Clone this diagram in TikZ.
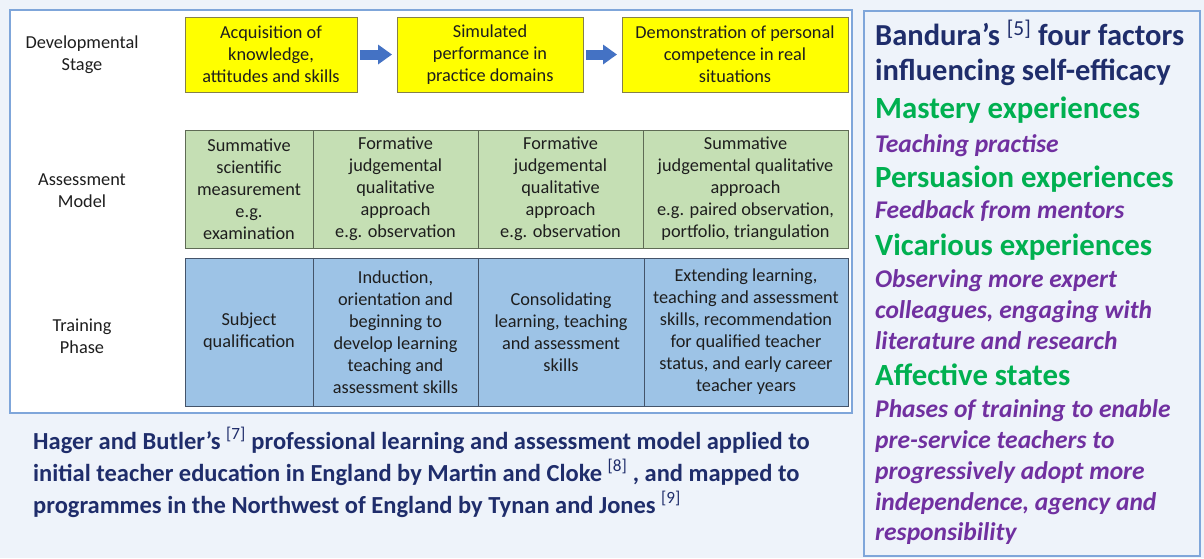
\documentclass[tikz,border=0pt]{standalone}
\usepackage{fontspec}
\setmainfont{Carlito}
\usetikzlibrary{arrows.meta}

\definecolor{pagebg}{HTML}{EEF3FA}
\definecolor{panelline}{HTML}{7FA6DA}
\definecolor{celltext}{HTML}{1E1E1E}
\definecolor{stageyellow}{HTML}{FFFF00}
\definecolor{stageedge}{HTML}{85804A}
\definecolor{assessgreen}{HTML}{C5DFB4}
\definecolor{assessedge}{HTML}{5F6B55}
\definecolor{phaseblue}{HTML}{9DC3E6}
\definecolor{phaseedge}{HTML}{44546A}
\definecolor{arrowblue}{HTML}{4472C4}
\definecolor{navy}{HTML}{1F2D6B}
\definecolor{factorgreen}{HTML}{00B050}
\definecolor{notepurple}{HTML}{7030A0}

\begin{document}
\begin{tikzpicture}[x=1pt,y=-1pt]

    \tikzset{
      cell/.style={
        draw,
        anchor=north west,
        align=center,
        inner sep=2pt,
        outer sep=0pt,
        line width=1pt,
        text=celltext,
        font=\fontsize{18.3}{22}\selectfont,
      },
      stagebox/.style={cell, fill=stageyellow, draw=stageedge,
        minimum width=172pt, minimum height=75pt},
      assessbox/.style={cell, fill=assessgreen, draw=assessedge,
        minimum height=118pt},
      phasebox/.style={cell, fill=phaseblue, draw=phaseedge,
        minimum height=148pt},
      rowlabel/.style={align=center, text=celltext,
        font=\fontsize{18.3}{22}\selectfont},
      fatarrow/.style={draw=arrowblue, line width=10pt,
        -{Triangle[length=14pt,width=19pt]},
        shorten <=3pt, shorten >=5pt},
      caption/.style={anchor=base west, inner sep=0pt, text=navy,
        font=\fontsize{24.5}{32}\selectfont\bfseries},
      heading/.style={anchor=base west, inner sep=0pt, text=navy,
        font=\fontsize{30.5}{35}\selectfont\bfseries},
      factor/.style={anchor=base west, inner sep=0pt, text=factorgreen,
        font=\fontsize{30.8}{34}\selectfont\bfseries},
      note/.style={anchor=base west, inner sep=0pt, text=notepurple,
        font=\fontsize{25.5}{30}\selectfont\bfseries\itshape},
    }

    \useasboundingbox (0,0) rectangle (1204,558);
    \fill[pagebg] (0,0) rectangle (1204,558);

    % the two panels
    \draw[panelline, line width=2pt, fill=white] (10,10) rectangle (852,413);
    \draw[panelline, line width=1.5pt, fill=pagebg] (864,11) rectangle (1200,556);

    % row labels
    \node[rowlabel] (lstage) at (82,55) {Developmental\\Stage};
    \node[rowlabel] (lassess) at (82,191) {Assessment\\Model};
    \node[rowlabel] (lphase) at (82,336) {Training\\Phase};

    % developmental stages
    \node[stagebox] (ds1) at (185,17) {Acquisition of\\knowledge,\\attitudes and skills};
    \node[stagebox, minimum width=186pt] (ds2) at (397,17) {Simulated\\performance in\\practice domains};
    \node[stagebox, minimum width=226pt] (ds3) at (622,17) {Demonstration of personal\\competence in real\\situations};
    \draw[fatarrow] (ds1) -- (ds2);
    \draw[fatarrow] (ds2) -- (ds3);

    % assessment model
    \node[assessbox, minimum width=128pt] (am1) at (185,130) {Summative\\scientific\\measurement\\e.g.\\examination};
    \node[assessbox, minimum width=165pt] (am2) at (313,130) {Formative\\judgemental\\qualitative\\approach\\e.g. observation};
    \node[assessbox, minimum width=165pt] (am3) at (478,130) {Formative\\judgemental\\qualitative\\approach\\e.g. observation};
    \node[assessbox, minimum width=205pt] (am4) at (643,130) {Summative\\judgemental qualitative\\approach\\e.g. paired observation,\\portfolio, triangulation};

    % training phases
    \node[phasebox, minimum width=128pt] (tp1) at (185,258) {Subject\\qualification};
    \node[phasebox, minimum width=165pt] (tp2) at (313,258) {Induction,\\orientation and\\beginning to\\develop learning\\teaching and\\assessment skills};
    \node[phasebox, minimum width=166pt] (tp3) at (478,258) {Consolidating\\learning, teaching\\and assessment\\skills};
    \node[phasebox, minimum width=204pt] (tp4) at (644,258) {Extending learning,\\teaching and assessment\\skills, recommendation\\for qualified teacher\\status, and early career\\teacher years};

    % caption under the model
    \node[caption] (cap1) at (33,449) {Hager and Butler’s {\mdseries\textsuperscript{[7]}} professional learning and assessment model applied to};
    \node[caption] (cap2) at (33,481) {initial teacher education in England by Martin and Cloke {\mdseries\textsuperscript{[8]}} , and mapped to};
    \node[caption] (cap3) at (33,513) {programmes in the Northwest of England by Tynan and Jones {\mdseries\textsuperscript{[9]}}};

    % self-efficacy factors
    \node[heading] (head1) at (875,45) {Bandura’s {\mdseries\textsuperscript{[5]}} four factors};
    \node[heading] (head2) at (875,80) {influencing self-efficacy};
    \node[factor] (mastery) at (875,118) {Mastery experiences};
    \node[note] (mastery-n) at (875,152) {Teaching practise};
    \node[factor] (persuasion) at (875,187) {Persuasion experiences};
    \node[note] (persuasion-n) at (875,218) {Feedback from mentors};
    \node[factor] (vicarious) at (875,255) {Vicarious experiences};
    \node[note] (vicarious-n1) at (875,287) {Observing more expert};
    \node[note] (vicarious-n2) at (875,318) {colleagues, engaging with};
    \node[note] (vicarious-n3) at (875,349) {literature and research};
    \node[factor] (affective) at (875,385) {Affective states};
    \node[note] (affective-n1) at (875,417) {Phases of training to enable};
    \node[note] (affective-n2) at (875,448) {pre-service teachers to};
    \node[note] (affective-n3) at (875,479) {progressively adopt more};
    \node[note] (affective-n4) at (875,510) {independence, agency and};
    \node[note] (affective-n5) at (875,540) {responsibility};

\end{tikzpicture}
\end{document}
